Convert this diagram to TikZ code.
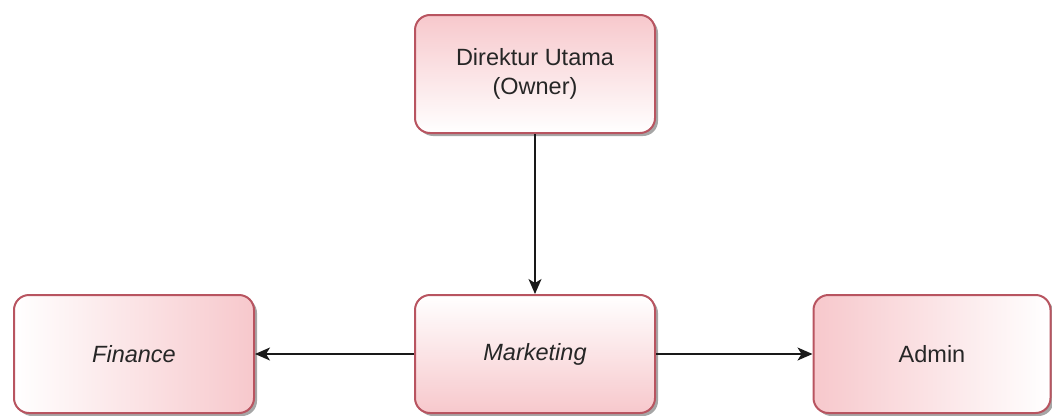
\documentclass[tikz,border=0pt]{standalone}
\usepackage{fontspec}
\setmainfont{Liberation Sans}
\usetikzlibrary{shadows,arrows.meta}
\definecolor{boxpink}{HTML}{F7C8CC}
\definecolor{boxline}{HTML}{B85460}
\tikzset{
  orgbox/.style={draw=boxline, line width=2pt, rounded corners=15pt,
    minimum width=240pt, minimum height=118pt, align=center, inner sep=0pt,
    font=\fontsize{23.5}{29}\selectfont, text=black!85,
    drop shadow={shadow xshift=3pt, shadow yshift=-3pt, fill=black, opacity=0.35}},
  conn/.style={-{Stealth[length=15pt,width=13pt,inset=4pt]}, line width=1.5pt, draw=black!90}
}
\begin{document}
\begin{tikzpicture}[x=1pt,y=1pt]
\useasboundingbox (0,0) rectangle (1052,-415);
\node[orgbox, top color=boxpink, bottom color=white] (dir) at (535,-74) {Direktur Utama\\(Owner)};
\node[orgbox, left color=white, right color=boxpink] (fin) at (134,-354) {\itshape Finance};
\node[orgbox, top color=white, bottom color=boxpink] (mkt) at (535,-354) {\itshape Marketing};
\node[orgbox, left color=boxpink, right color=white, minimum width=237pt] (adm) at (932,-354) {Admin};
\draw[conn] (dir) -- (mkt);
\draw[conn] (mkt) -- (fin);
\draw[conn] (mkt) -- (adm);
\end{tikzpicture}
\end{document}
